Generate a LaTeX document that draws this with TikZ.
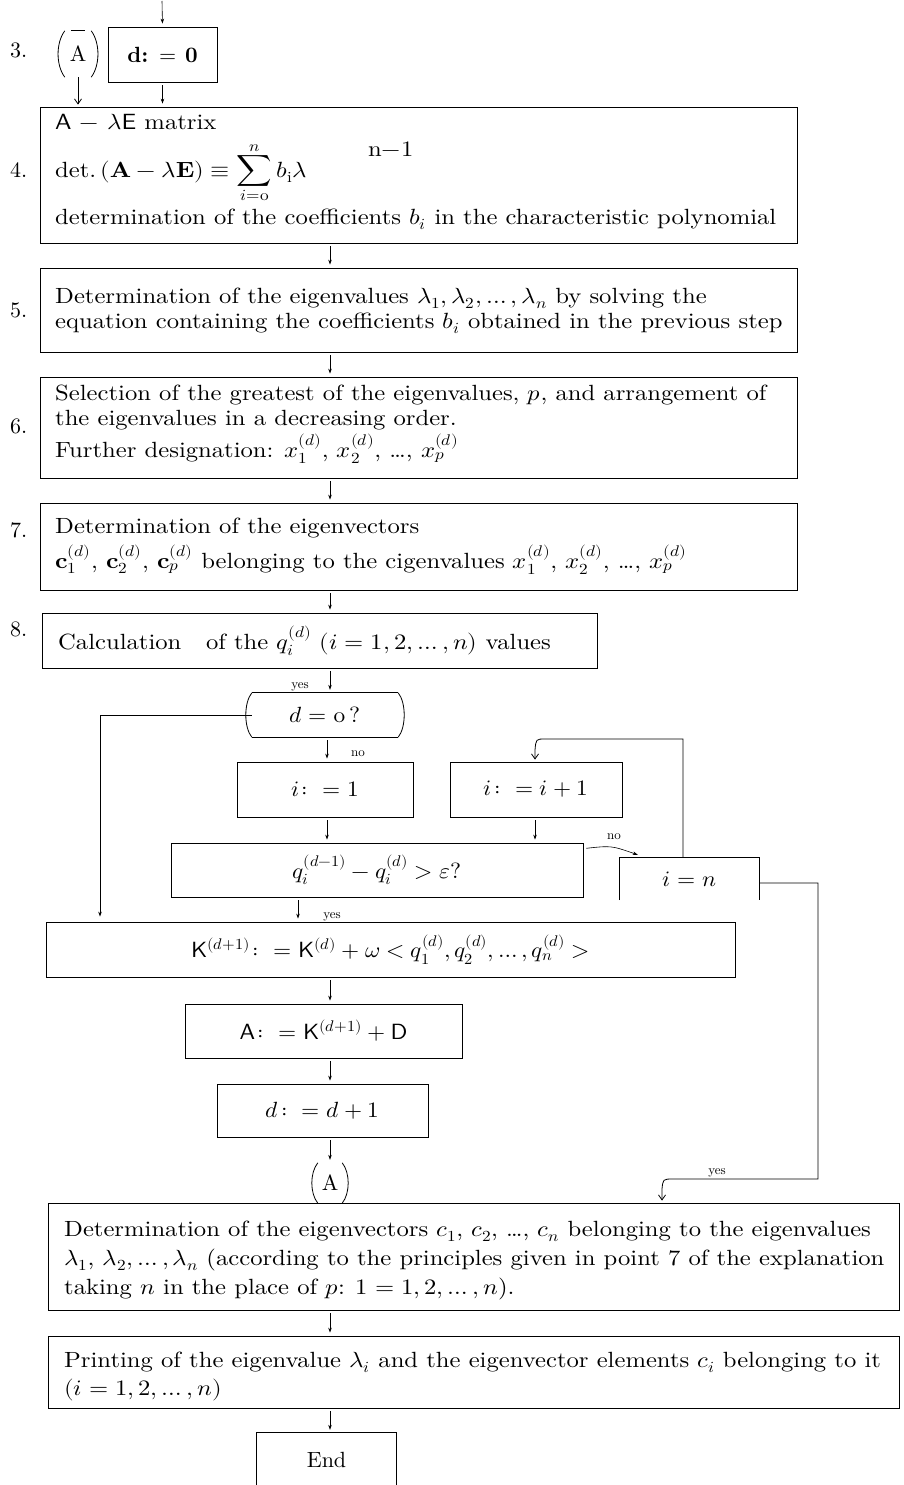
\documentclass[tikz,border=0pt]{standalone}
\usepackage{fontspec}
\usepackage{unicode-math}
\setmainfont{lmroman10}[Extension=.otf, UprightFont=*-regular, BoldFont=*-bold, ItalicFont=*-italic, BoldItalicFont=*-bolditalic]
\setsansfont{lmsans10}[Extension=.otf, UprightFont=*-regular, BoldFont=*-bold, ItalicFont=*-oblique, BoldItalicFont=*-boldoblique]
\setmathfont{Latin Modern Math}
\usetikzlibrary{arrows.meta}
\newcommand{\bodyfont}{\fontsize{22}{26}\selectfont}
\newcommand{\lblfont}{\fontsize{13}{15}\selectfont}
\newcommand{\wt}[1]{\scalebox{1.12}[1]{#1}}
\newcommand{\wm}[1]{\scalebox{1.06}[1]{#1}}
\begin{document}
\begin{tikzpicture}[x=1pt,y=-1pt,
  bx/.style={draw, line width=0.8pt, inner sep=0pt, font=\bodyfont},
  nb/.style={inner sep=0pt, font=\bodyfont},
  ln/.style={line width=0.8pt},
  arr/.style={line width=0.6pt, -{Stealth[length=5pt,width=3.5pt]}},
  barb/.style={line width=0.8pt, -{Straight Barb[length=5pt,width=7pt]}},
  gap/.style={shorten <=3pt, shorten >=3pt},
  tl/.style={anchor=base west, inner sep=0pt, font=\bodyfont},
  lbl/.style={anchor=base, inner sep=0pt, font=\lblfont},
  nm/.style={anchor=base west, inner sep=0pt, font=\bodyfont}]
\useasboundingbox (0,0) rectangle (904,1485);

% ---------- step 3 ----------
\node[nm] (n3) at (10,58) {3.};
\node[nb, minimum width=26, minimum height=46] (A1) at (78,54) {A};
\draw[ln] (A1.north west) .. controls +(-9,12) and +(-9,-12) .. (A1.south west);
\draw[ln] (A1.north east) .. controls +(9,12) and +(9,-12) .. (A1.south east);
\draw[ln] ([xshift=6]A1.north west) -- ([xshift=-6]A1.north east);
\node[bx, minimum width=109, minimum height=55] (d0) at (162.5,54.5) {\textbf{d: $=$ 0}};
\coordinate (t0) at (162,1);
\draw[arr, shorten >=3pt] (t0) -- (d0.north);

% ---------- step 4 ----------
\node[bx, minimum width=757, minimum height=136] (b4) at (418.5,175) {};
\node[nm] (n4) at (10,177) {4.};
\draw[barb, shorten >=2pt] (A1.south) -- (A1.south |- b4.north);
\draw[arr, gap] (d0.south) -- (d0.south |- b4.north);
\node[tl] (t4a) at (55,129) {\wt{\textsf{A} $-$ $\lambda$\textsf{E} matrix}};
\node[tl] (t4b) at (55,177) {\wt{det.\,$(\mathbf{A}-\lambda\mathbf{E}) \equiv \displaystyle\sum_{i=\mathrm{o}}^{n} b_{\mathrm{i}}\lambda$}};
\node[tl] (t4c) at (368,156) {\wt{n$-$1}};
\node[tl] (t4d) at (55,224) {\wt{determination of the coefficients $b_i$ in the characteristic polynomial}};

\coordinate (cx) at (330,0);

% ---------- step 5 ----------
\node[bx, minimum width=757, minimum height=84] (b5) at (418.5,310) {};
\node[nm] (n5) at (10,317) {5.};
\node[tl] (t5a) at (55,303) {\wt{Determination of the eigenvalues $\lambda_1, \lambda_2, \ldots, \lambda_n$ by solving the}};
\node[tl] (t5b) at (55,328) {\wt{equation containing the coefficients $b_i$ obtained in the previous step}};
\draw[arr, gap] (cx |- b4.south) -- (cx |- b5.north);

% ---------- step 6 ----------
\node[bx, minimum width=757, minimum height=101] (b6) at (418.5,427.5) {};
\node[nm] (n6) at (10,433) {6.};
\node[tl] (t6a) at (55,400) {\wt{Selection of the greatest of the eigenvalues, $p$, and arrangement of}};
\node[tl] (t6b) at (55,425) {\wt{the eigenvalues in a decreasing order.}};
\node[tl] (t6c) at (55,457) {\wt{Further designation: $x^{(d)}_1$, $x^{(d)}_2$, \ldots, $x^{(d)}_p$}};
\draw[arr, gap] (cx |- b5.south) -- (cx |- b6.north);

% ---------- step 7 ----------
\node[bx, minimum width=757, minimum height=87] (b7) at (418.5,546.5) {};
\node[nm] (n7) at (10,537) {7.};
\node[tl] (t7a) at (55,533) {\wt{Determination of the eigenvectors}};
\node[tl] (t7b) at (55,568) {\wt{$\mathbf{c}^{(d)}_1$, $\mathbf{c}^{(d)}_2$, $\mathbf{c}^{(d)}_p$ belonging to the cigenvalues $x^{(d)}_1$, $x^{(d)}_2$, \ldots, $x^{(d)}_p$}};
\draw[arr, gap] (cx |- b6.south) -- (cx |- b7.north);

% ---------- step 8 ----------
\node[bx, minimum width=555, minimum height=55] (b8) at (319.5,640.5) {};
\node[nm] (n8) at (10,636) {8.};
\node[tl] (t8) at (58,649) {\wt{Calculation\quad of the $q^{(d)}_i$ $(i = 1, 2, \ldots, n)$ values}};
\draw[arr, gap] (cx |- b7.south) -- (cx |- b8.north);

% ---------- decision d = o ? ----------
\node[nb, minimum width=146, minimum height=44] (dq) at (325,715) {\wm{$d = \mathrm{o}\,?$}};
\draw[ln] (dq.north west) -- (dq.north east);
\draw[ln] (dq.south west) -- (dq.south east);
\draw[ln] (dq.north west) .. controls +(-8,10) and +(-8,-10) .. (dq.south west);
\draw[ln] (dq.north east) .. controls +(8,10) and +(8,-10) .. (dq.south east);
\draw[arr, gap] (cx |- b8.south) -- (cx |- dq.north);
\node[lbl] (yes1) at (300,688) {yes};

% ---------- i := 1 , i := i+1 ----------
\node[bx, minimum width=176, minimum height=55] (i1) at (325,789.5) {\wm{$i\colon = 1$}};
\node[bx, minimum width=172, minimum height=55] (ii) at (536,789.5) {\wm{$i\colon = i + 1$}};
\coordinate (cq) at (327,0);
\draw[arr, gap] (cq |- dq.south) -- (cq |- i1.north);
\node[lbl] (no1) at (358,756) {no};

% ---------- test q ----------
\node[bx, minimum width=412, minimum height=54] (q) at (377,870) {\wm{$q_i^{(d-1)} - q_i^{(d)} > \varepsilon ?$}};
\draw[arr, gap] (cq |- i1.south) -- (cq |- q.north);
\coordinate (ci) at (535,0);
\draw[arr, gap] (ci |- ii.south) -- (ci |- q.north);

% ---------- i = n ----------
\node[nb, minimum width=139, minimum height=42] (inn) at (689.5,879) {\wm{$i = n$}};
\draw[ln] (inn.south west) -- (inn.north west) -- (inn.north east) -- (inn.south east);
\coordinate (qn) at ([yshift=-6]q.north east);
\coordinate (qa) at ([xshift=18,yshift=3]inn.north west);
\draw[arr, shorten <=3pt] (qn) .. controls +(28,-3) .. (qa);
\node[lbl] (no2) at (614,839) {no};

% loop back to i := i+1
\coordinate (lr) at (683,739);
\coordinate (ll) at (545,739);
\draw[ln, -{Straight Barb[length=5pt,width=7pt]}] (lr |- inn.north) -- (lr) -- (ll) .. controls (536,739) .. (ci |- 750,750) -- ([yshift=2]ci |- ii.north);

% ---------- K ----------
\node[bx, minimum width=689, minimum height=55] (K) at (390.5,949.5) {\wm{$\mathsf{K}^{(d+1)}\colon = \mathsf{K}^{(d)} + \omega < q^{(d)}_1, q^{(d)}_2, \ldots, q^{(d)}_n >$}};
\coordinate (cy) at (298,0);
\draw[arr, gap] (cy |- q.south) -- (cy |- K.north);
\node[lbl] (yes2) at (332,918) {yes};
\coordinate (lc) at (100,715);
\draw[arr, shorten >=5pt] (dq.west) -- (lc) -- (lc |- K.north);

% ---------- A := ----------
\node[bx, minimum width=277, minimum height=54] (Ab) at (323.5,1031) {\wm{$\mathsf{A}\colon = \mathsf{K}^{(d+1)} + \mathsf{D}$}};
\draw[arr, gap] (cx |- K.south) -- (cx |- Ab.north);

% ---------- d := d+1 ----------
\node[bx, minimum width=211, minimum height=53] (dd) at (322.5,1110.5) {\wm{$d\colon = d + 1$}};
\draw[arr, gap] (cx |- Ab.south) -- (cx |- dd.north);

% ---------- (A) ----------
\node[nb, minimum width=24, minimum height=40] (A2) at (330,1183) {A};
\draw[ln] (A2.north west) .. controls +(-8,10) and +(-8,-10) .. (A2.south west);
\draw[ln] (A2.north east) .. controls +(8,10) and +(8,-10) .. (A2.south east);
\draw[ln] ([xshift=5]A2.south west) -- ([xshift=-5]A2.south east);
\draw[arr, gap] (cx |- dd.south) -- (cx |- A2.north);

% ---------- final eigenvectors ----------
\node[bx, minimum width=851, minimum height=107] (det) at (473.5,1256.5) {};
\node[tl] (td1) at (64,1236) {\wt{Determination of the eigenvectors $c_1$, $c_2$, \ldots, $c_n$ belonging to the eigenvalues}};
\node[tl] (td2) at (64,1265) {\wt{$\lambda_1$, $\lambda_2, \ldots, \lambda_n$ (according to the principles given in point 7 of the explanation}};
\node[tl] (td3) at (64,1294) {\wt{taking $n$ in the place of $p$: $1 = 1, 2, \ldots, n$).}};

% yes path from i = n
\coordinate (rr) at (818,883);
\coordinate (rb) at (818,1179);
\coordinate (ry) at (673,1179);
\coordinate (cd) at (662,0);
\draw[ln, -{Straight Barb[length=5pt,width=7pt]}] (inn.east |- rr) -- (rr) -- (rb) -- (ry) .. controls (663,1179) .. (cd |- 1189,1189) -- ([yshift=2]cd |- det.north);
\node[lbl] (yes3) at (717,1174) {yes};

% ---------- printing ----------
\node[bx, minimum width=851, minimum height=72] (pr) at (473.5,1372) {};
\node[tl] (tp1) at (64,1367) {\wt{Printing of the eigenvalue $\lambda_i$ and the eigenvector elements $c_i$ belonging to it}};
\node[tl] (tp2) at (64,1395) {\wt{$(i = 1, 2, \ldots, n)$}};
\draw[arr, gap] (cx |- det.south) -- (cx |- pr.north);

% ---------- End ----------
\node[nb, minimum width=139, minimum height=54] (end) at (326.5,1460) {End};
\draw[ln] (end.south west) -- (end.north west) -- (end.north east) -- (end.south east);
\draw[arr, gap] (cx |- pr.south) -- (cx |- end.north);
\end{tikzpicture}
\end{document}
